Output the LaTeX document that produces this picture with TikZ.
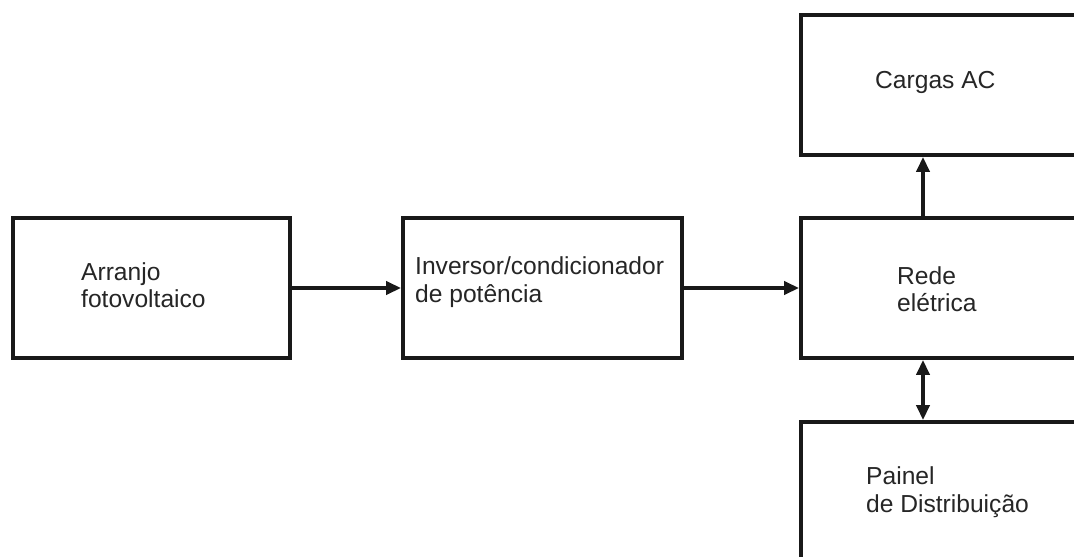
\documentclass[tikz,border=0pt]{standalone}
\usepackage{fontspec}
\setmainfont{Liberation Sans}
\usetikzlibrary{arrows.meta}
\begin{document}
\begin{tikzpicture}[x=1pt,y=-1pt,
  box/.style={draw=black!90, line width=3.8pt, rectangle, inner sep=0pt},
  lbl/.style={anchor=west, align=left, inner sep=0pt, text=black!85,
    font=\fontsize{24.6}{27.5}\selectfont},
  tip/.style={},
  arr/.style={draw=black!90, line width=3.6pt,
    -{Triangle[length=15pt,width=13pt]}},
  darr/.style={draw=black!90, line width=3.6pt,
    {Triangle[length=15pt,width=13pt]}-{Triangle[length=15pt,width=13pt]}}]
  \useasboundingbox (0,0) rectangle (1074,557);
  \clip (0,0) rectangle (1074,557);
  \fill[white] (0,0) rectangle (1074,557);

  % blocks
  \node[box, minimum width=277pt, minimum height=140pt] (pv) at (151.5,288) {};
  \node[box, minimum width=279pt, minimum height=140pt] (inv) at (542.5,288) {};
  \node[box, minimum width=300pt, minimum height=140pt] (grid) at (951,288) {};
  \node[box, minimum width=300pt, minimum height=140pt] (load) at (951,85) {};
  \node[box, minimum width=300pt, minimum height=160pt] (panel) at (951,502) {};

  % labels
  \node[lbl] (tpv) at (81,285) {Arranjo\\fotovoltaico};
  \node[lbl] (tinv) at (415,282) {Inversor/condicionador\\de potência};
  \node[lbl] (tgrid) at (897,289) {Rede\\elétrica};
  \node[lbl] (tload) at (875,82) {Cargas AC};
  \node[lbl] (tpanel) at (866,492) {Painel\\de Distribuição};

  % connections
  \coordinate (tap) at (923,0);
  \draw[arr] (pv) -- (inv);
  \draw[arr] (inv) -- (grid);
  \draw[arr] (tap |- grid.north) -- (tap |- load.south);
  \draw[darr] (tap |- grid.south) -- (tap |- panel.north);
\end{tikzpicture}
\end{document}
